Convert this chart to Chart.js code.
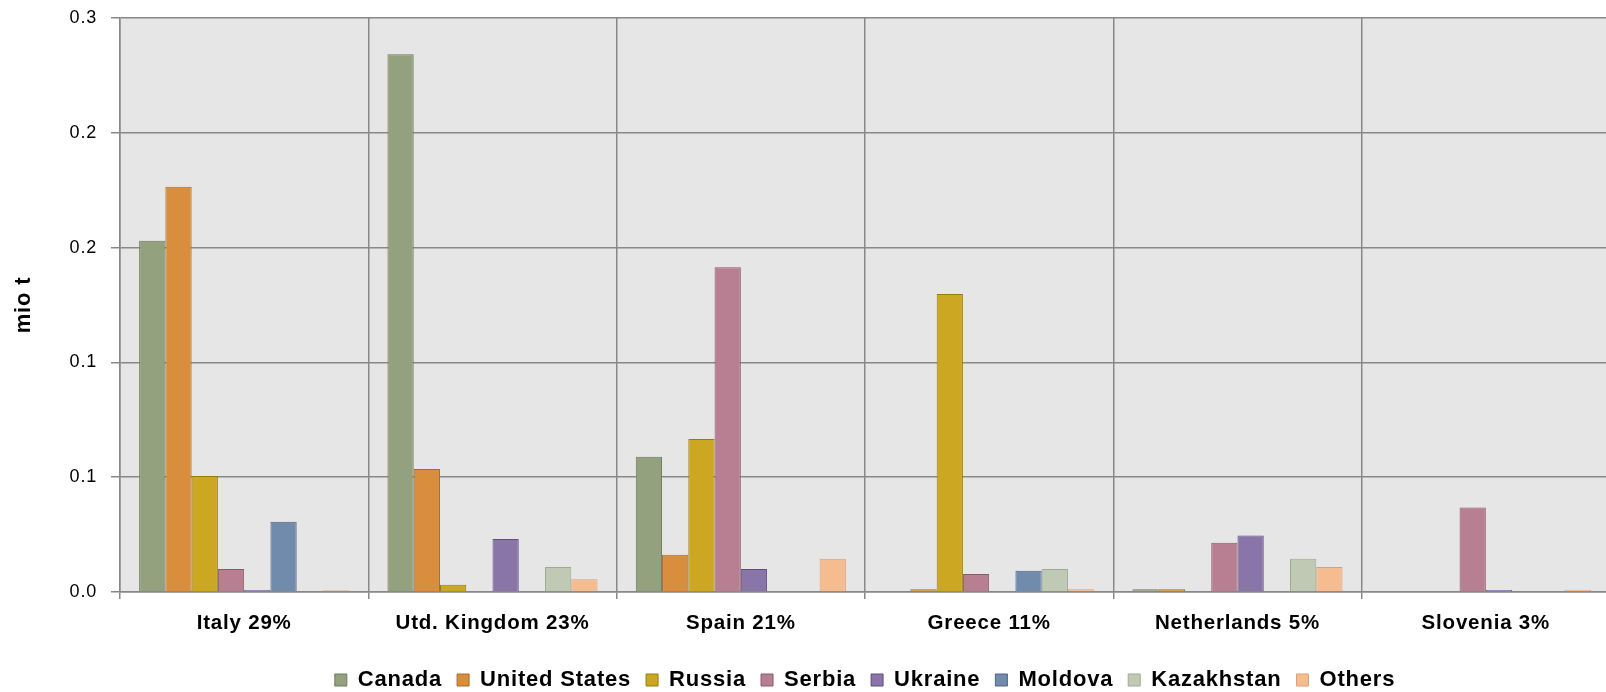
<!DOCTYPE html>
<html><head><meta charset="utf-8">
<script src="https://cdn.jsdelivr.net/npm/chart.js@4/dist/chart.umd.min.js"></script>
<style>
html,body{margin:0;padding:0;overflow:hidden;background:#fff;width:1606px;height:692px}
#wrap{width:1610px;height:692px}
</style>
</head><body><div id="wrap"><canvas id="c" width="1610" height="692"></canvas></div>
<script>
const categories = ["Italy 29%", "Utd. Kingdom 23%", "Spain 21%", "Greece 11%", "Netherlands 5%", "Slovenia 3%"];
const seriesNames = ["Canada", "United States", "Russia", "Serbia", "Ukraine", "Moldova", "Kazakhstan", "Others"];
const canada     = [0.1530, 0.2342, 0.0589, 0,      0.0012, 0];
const unitedStates = [0.1765, 0.0536, 0.0162, 0.0012, 0.0012, 0];
const russia     = [0.0505, 0.0032, 0.0666, 0.1298, 0,      0];
const serbia     = [0.0100, 0,      0.1414, 0.0078, 0.0215, 0.0368];
const ukraine    = [0.0009, 0.0231, 0.0100, 0,      0.0246, 0.0009];
const moldova    = [0.0306, 0,      0,      0.0093, 0,      0];
const kazakhstan = [0,      0.0109, 0,      0.0100, 0.0145, 0];
const others     = [0.0008, 0.0055, 0.0145, 0.0012, 0.0109, 0.0010];
const yTickLabels = ["0.0", "0.1", "0.1", "0.2", "0.2", "0.3"];

const fills   = ['#93a17f','#d98e3d','#cca722','#b87f92','#8a75a9','#718bac','#c0c9b4','#f5bc90'];
const borders = ['#6e7a5c','#a86a28','#977a12','#8a5a6c','#5f4d86','#4c6488','#9fa893','#d8a07a'];
const seriesData = [canada, unitedStates, russia, serbia, ukraine, moldova, kazakhstan, others];

const FONT = "'Liberation Sans', Arial, sans-serif";
const GRID = '#888888';

const bgPlugin = {
  id: 'bg',
  beforeLayout(chart) { chart.ctx.letterSpacing = '0.8px'; },
  beforeDraw(chart) {
    const {ctx, chartArea: a} = chart;
    ctx.letterSpacing = '0.8px';
    ctx.save();
    ctx.fillStyle = '#e6e6e6';
    ctx.fillRect(a.left, a.top, a.right - a.left, a.bottom - a.top);
    ctx.restore();
  }
};

new Chart(document.getElementById('c'), {
  type: 'bar',
  data: {
    labels: categories,
    datasets: seriesNames.map((n, i) => ({
      label: n,
      data: seriesData[i],
      backgroundColor: fills[i],
      borderColor: borders[i],
      borderWidth: 1,
      categoryPercentage: 0.846,
      barPercentage: 1.0
    }))
  },
  options: {
    responsive: false,
    animation: false,
    devicePixelRatio: 1,
    layout: { padding: { top: 18, right: 0, left: 0, bottom: 0 } },
    plugins: {
      tooltip: { enabled: false },
      legend: {
        position: 'bottom',
        fullSize: false,
        maxHeight: 38,
        labels: {
          boxWidth: 12, boxHeight: 12, padding: 15,
          color: '#000',
          font: { family: FONT, size: 22, weight: 'bold' }
        }
      }
    },
    scales: {
      x: {
        grid: { offset: true, color: GRID, lineWidth: 1.5, tickLength: 7, drawTicks: true },
        border: { color: GRID, width: 1.5 },
        ticks: { color: '#000', padding: 12, maxRotation: 0, font: { family: FONT, size: 20.5, weight: 'bold' } },
        afterFit: s => { s.height = 62; }
      },
      y: {
        min: 0, max: 0.25,
        ticks: {
          stepSize: 0.05, color: '#000', padding: 14,
          font: { family: FONT, size: 18 },
          callback: (v, i) => yTickLabels[i]
        },
        grid: { color: GRID, lineWidth: 1.5, tickLength: 9 },
        border: { color: GRID, width: 1.5 },
        title: { display: true, text: 'mio t', color: '#000', padding: { top: 11, bottom: 0 },
                 font: { family: FONT, size: 22, weight: 'bold' } },
        afterFit: s => { s.width = 120; s.paddingTop = 0; s.paddingBottom = 0; }
      }
    }
  },
  plugins: [bgPlugin]
});
</script>
</body></html>
